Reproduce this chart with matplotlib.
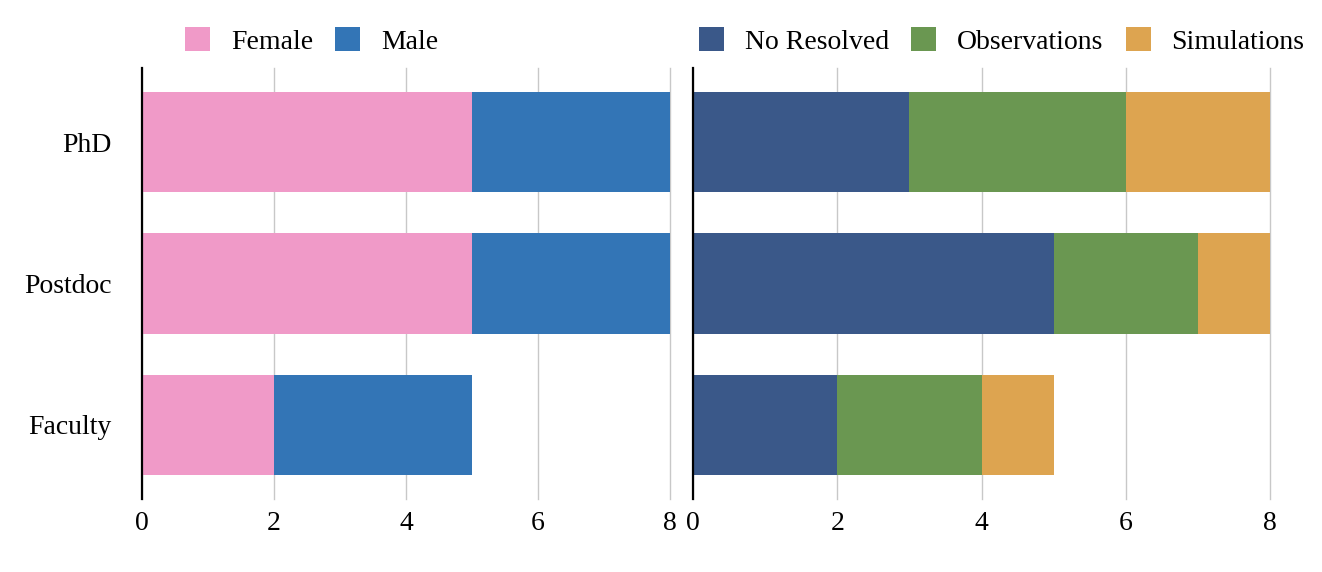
import matplotlib
matplotlib.use("Agg")
import matplotlib.pyplot as plt
import numpy as np

categories = ["PhD", "Postdoc", "Faculty"]
female = [5, 5, 2]
male = [3, 3, 3]
no_resolved = [3, 5, 2]
observations = [3, 2, 2]
simulations = [2, 1, 1]
xticks = [0, 2, 4, 6, 8]

c_female = "#F09AC8"
c_male = "#3375B6"
c_nores = "#3A5889"
c_obs = "#6A9751"
c_sim = "#DDA450"

plt.rcParams['font.family'] = ['Liberation Serif', 'DejaVu Serif']
plt.rcParams['font.size'] = 20

W, H = 1322, 572
fig = plt.figure(figsize=(W / 100, H / 100), dpi=100)
bottom = (H - 499) / H
height = 431 / H
ax1 = fig.add_axes([142 / W, bottom, 528 / W, height])
ax2 = fig.add_axes([693 / W, bottom, 577 / W, height])

y = np.arange(len(categories))
bh = 0.707

def stack(ax, series, colors, labels):
    left = np.zeros(len(categories))
    handles = []
    for vals, col, lab in zip(series, colors, labels):
        h = ax.barh(y, vals, left=left, height=bh, color=col, label=lab, linewidth=0)
        handles.append(h)
        left = left + np.array(vals)
    return handles

h1 = stack(ax1, [female, male], [c_female, c_male], ["Female", "Male"])
h2 = stack(ax2, [no_resolved, observations, simulations], [c_nores, c_obs, c_sim],
           ["No Resolved", "Observations", "Simulations"])

for ax in (ax1, ax2):
    ax.set_xlim(0, 8)
    ax.set_ylim(2.523, -0.523)
    ax.set_xticks(xticks)
    ax.set_xticklabels([str(t) for t in xticks])
    ax.set_axisbelow(True)
    ax.grid(axis="x", color="#C8C8C8", linewidth=1)
    ax.grid(axis="y", visible=False)
    for gl in ax.get_xgridlines():
        gl.set_clip_on(False)
    for s in ("top", "right", "bottom"):
        ax.spines[s].set_visible(False)
    ax.spines["left"].set_linewidth(1.6)
    ax.spines["left"].set_color("black")
    ax.tick_params(axis="x", length=0, pad=9)
    ax.tick_params(axis="y", length=0, pad=22)

ax1.set_yticks(y)
ax1.set_yticklabels(categories)
ax2.set_yticks([])

leg_kw = dict(loc="center left", frameon=False, ncol=3, borderpad=0, borderaxespad=0,
              handlelength=0.9, handleheight=0.9, handletextpad=0.75, columnspacing=0.8,
              fontsize=20)
fig.legend(handles=h1, labels=["Female", "Male"], bbox_to_anchor=(185 / W, 1 - 41 / H), **leg_kw)
fig.legend(handles=h2, labels=["No Resolved", "Observations", "Simulations"],
           bbox_to_anchor=(699 / W, 1 - 41 / H), **leg_kw)

fig.savefig("out.png", dpi=100)
